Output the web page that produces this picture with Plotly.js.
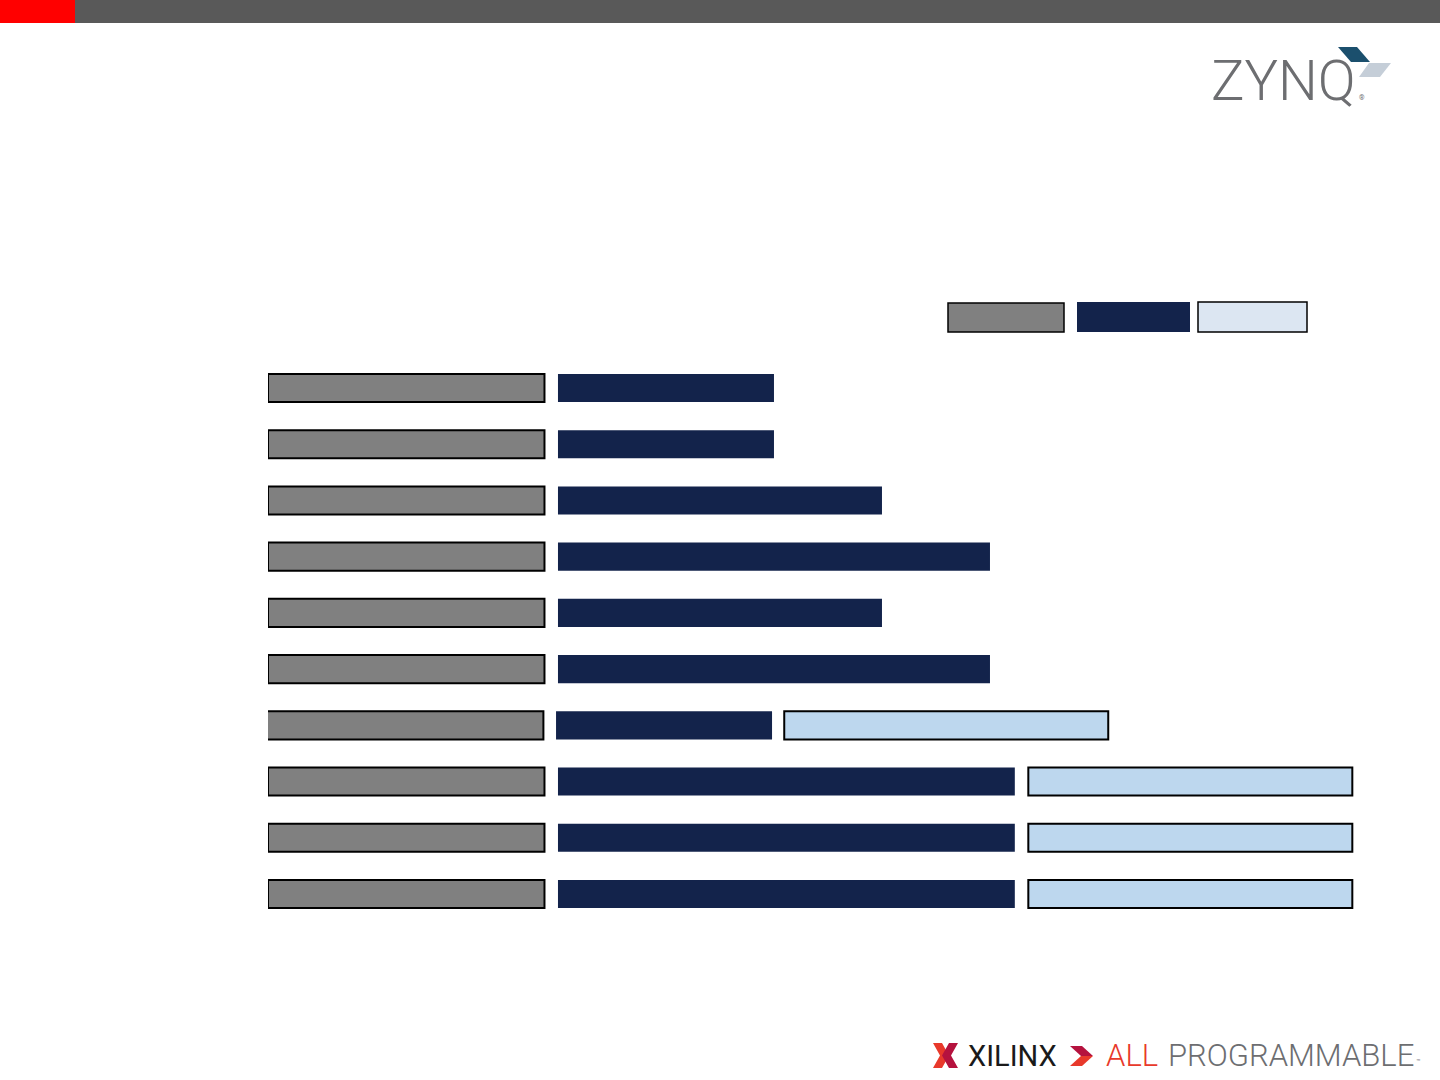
<!DOCTYPE html>
<html>
<head>
<meta charset="utf-8">
<script src="https://cdn.plot.ly/plotly-3.0.1.min.js"></script>
<style>html,body{margin:0;padding:0;background:#fff;}#chart{width:1440px;height:1080px;}</style>
</head>
<body>
<div id="chart"></div>
<script>
// Rows of the timeline (top to bottom)
const rows = [1, 2, 3, 4, 5, 6, 7, 8, 9, 10];
// Phase 1 (gray)
const grayStart = [0, 0, 0, 0, 0, 0, -0.1, 0, 0, 0];
const grayLen   = [25.6, 25.6, 25.6, 25.6, 25.6, 25.6, 25.6, 25.6, 25.6, 25.6];
// Phase 2 (navy)
const navyStart = [26.85, 26.85, 26.85, 26.85, 26.85, 26.85, 26.67, 26.85, 26.85, 26.85];
const navyLen   = [20, 20, 30, 40, 30, 40, 20, 42.3, 42.3, 42.3];
// Phase 3 (light blue)
const blueStart = [null, null, null, null, null, null, 47.8, 70.4, 70.4, 70.4];
const blueLen   = [null, null, null, null, null, null, 30, 30, 30, 30];

const W = 1440, H = 1080;
const px = x => x / W;
const py = y => 1 - y / H;
function pathPx(pts) {
  return 'M ' + pts.map(p => px(p[0]).toFixed(5) + ' ' + py(p[1]).toFixed(5)).join(' L ') + ' Z';
}
function rectPx(x0, y0, x1, y1, fill, lineColor, lineWidth) {
  return {type: 'rect', xref: 'paper', yref: 'paper', x0: px(x0), x1: px(x1), y0: py(y1), y1: py(y0),
          fillcolor: fill, line: {color: lineColor || fill, width: lineWidth || 0}, layer: 'above'};
}
function polyPx(pts, fill) {
  return {type: 'path', xref: 'paper', yref: 'paper', path: pathPx(pts), fillcolor: fill, line: {width: 0}, layer: 'above'};
}

const barW = 0.5;
const traces = [
  {type: 'bar', orientation: 'h', y: rows, x: grayLen, base: grayStart, width: barW,
   marker: {color: '#808080', line: {color: '#000000', width: 2}}, hoverinfo: 'skip', showlegend: false},
  {type: 'bar', orientation: 'h', y: rows, x: navyLen, base: navyStart, width: barW,
   marker: {color: '#13234B', line: {width: 0}}, hoverinfo: 'skip', showlegend: false},
  {type: 'bar', orientation: 'h', y: rows, x: blueLen, base: blueStart, width: barW,
   marker: {color: '#BDD7EE', line: {color: '#000000', width: 2}}, hoverinfo: 'skip', showlegend: false}
];

const shapes = [
  // top banner
  rectPx(0, 0, 75, 23, '#FF0000'),
  rectPx(75, 0, 1440, 23, '#595959'),
  // legend swatches
  rectPx(948, 303, 1064, 332, '#808080', '#000000', 1.5),
  rectPx(1077, 302, 1190, 332, '#13234B'),
  rectPx(1198, 302, 1307, 332, '#DCE6F2', '#000000', 1.5),
  // ZYNQ logo marks
  polyPx([[1338, 47], [1357, 47], [1370, 62], [1351, 62]], '#1B4F6D'),
  polyPx([[1369, 63], [1391, 63], [1380, 77], [1359, 77]], '#C5CED8'),
  // Xilinx icon
  polyPx([[933, 1043], [942, 1043], [949, 1055.5], [942, 1068], [933, 1068], [940, 1055.5]], '#E8392B'),
  polyPx([[949, 1043], [958, 1043], [951, 1055.5], [958, 1068], [949, 1068], [942, 1055.5]], '#B5123E'),
  // chevron
  polyPx([[1070, 1046], [1082, 1046], [1093, 1056], [1081, 1056]], '#B5123E'),
  polyPx([[1081, 1056], [1093, 1056], [1082, 1066], [1070, 1066]], '#E8392B')
];

const annotations = [
  {text: 'ZYNQ', xref: 'paper', yref: 'paper', x: px(1209), y: py(104), xanchor: 'left', yanchor: 'bottom',
   showarrow: false, font: {family: 'Roboto', size: 56, color: '#6D6E71', weight: 300}, yshift: -12},
  {text: '®', xref: 'paper', yref: 'paper', x: px(1357), y: py(104), xanchor: 'left', yanchor: 'bottom',
   showarrow: false, font: {family: 'Roboto', size: 7, color: '#6D6E71'}},
  {text: 'XILINX', xref: 'paper', yref: 'paper', x: px(966), y: py(1069), xanchor: 'left', yanchor: 'bottom',
   showarrow: false, font: {family: 'Roboto', size: 29, color: '#1A1A1A', weight: 400}, yshift: -6},
  {text: 'ALL', xref: 'paper', yref: 'paper', x: px(1104), y: py(1069), xanchor: 'left', yanchor: 'bottom',
   showarrow: false, font: {family: 'Roboto', size: 31, color: '#E8392B', weight: 300}, yshift: -7},
  {text: 'PROGRAMMABLE', xref: 'paper', yref: 'paper', x: px(1166), y: py(1069), xanchor: 'left', yanchor: 'bottom',
   showarrow: false, font: {family: 'Roboto', size: 31, color: '#6D6E71', weight: 300}, yshift: -7},
  {text: '™', xref: 'paper', yref: 'paper', x: px(1414), y: py(1068), xanchor: 'left', yanchor: 'bottom',
   showarrow: false, font: {family: 'Roboto', size: 7, color: '#6D6E71'}}
];

const unit = 10.8; // px per unit
const x0px = 268, x1px = 1376;
const layout = {
  width: W, height: H,
  margin: {l: 0, r: 0, t: 0, b: 0, pad: 0},
  paper_bgcolor: '#FFFFFF', plot_bgcolor: '#FFFFFF',
  barmode: 'overlay',
  showlegend: false,
  xaxis: {domain: [px(x0px), px(x1px)], range: [0, (x1px - x0px) / unit],
          showgrid: false, zeroline: false, showticklabels: false, showline: false, ticks: ''},
  yaxis: {domain: [py(922.1), py(359.9)], range: [10.5, 0.5],
          showgrid: false, zeroline: false, showticklabels: false, showline: false, ticks: ''},
  shapes: shapes,
  annotations: annotations
};

Plotly.newPlot('chart', traces, layout, {staticPlot: true, displayModeBar: false});
</script>
</body>
</html>
